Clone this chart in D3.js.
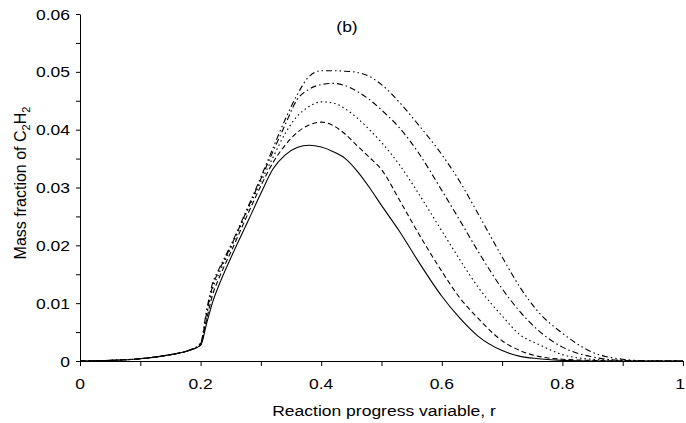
<!DOCTYPE html>
<html>
<head>
<meta charset="utf-8">
<script src="https://cdn.jsdelivr.net/npm/d3@7/dist/d3.min.js"></script>
<style>
  html, body { margin: 0; padding: 0; background: #fff; }
  svg { display: block; font-family: "Liberation Sans", Arial, sans-serif; }
</style>
</head>
<body>
<svg id="chart" width="686" height="423"></svg>
<script>
// ---- data ----
const rGrid = [0, 0.05, 0.1, 0.15, 0.18, 0.2, 0.21, 0.22, 0.23, 0.25, 0.28, 0.3, 0.32, 0.34, 0.36, 0.38, 0.4, 0.42, 0.44, 0.46, 0.48, 0.5, 0.53, 0.56, 0.6, 0.63, 0.66, 0.7, 0.73, 0.76, 0.8, 0.85, 0.9, 0.95, 1];

const solidSeries   = [0, 0.0001, 0.0004, 0.0011, 0.0018, 0.0027, 0.0065, 0.0102, 0.0130, 0.0178, 0.0245, 0.0290, 0.0332, 0.0356, 0.0369, 0.0373, 0.0370, 0.0362, 0.0350, 0.0328, 0.0300, 0.0269, 0.0224, 0.0174, 0.0112, 0.0074, 0.0043, 0.0018, 0.0008, 0.0004, 0.0001, 0, 0, 0, 0];
const dashedSeries  = [0, 0.0001, 0.0004, 0.0011, 0.0018, 0.0028, 0.0072, 0.0115, 0.0142, 0.0188, 0.0258, 0.0303, 0.0343, 0.0373, 0.0395, 0.0408, 0.0413, 0.0407, 0.0392, 0.0372, 0.0352, 0.0331, 0.0278, 0.0223, 0.0155, 0.0109, 0.0074, 0.0035, 0.0018, 0.0008, 0.0003, 0.0001, 0, 0, 0];
const dottedSeries  = [0, 0.0001, 0.0004, 0.0011, 0.0018, 0.0029, 0.0078, 0.0125, 0.0150, 0.0195, 0.0265, 0.0310, 0.0352, 0.0393, 0.0423, 0.0440, 0.0448, 0.0446, 0.0436, 0.0420, 0.0400, 0.0378, 0.0339, 0.0292, 0.0225, 0.0175, 0.0128, 0.0078, 0.0045, 0.0029, 0.0011, 0.0003, 0.0001, 0, 0];
const dashDotSeries = [0, 0.0001, 0.0004, 0.0011, 0.0018, 0.0030, 0.0083, 0.0130, 0.0155, 0.0198, 0.0268, 0.0315, 0.0362, 0.0408, 0.0452, 0.0470, 0.0478, 0.0480, 0.0476, 0.0466, 0.0452, 0.0434, 0.0403, 0.0362, 0.0295, 0.0243, 0.0190, 0.0125, 0.0085, 0.0053, 0.0024, 0.0007, 0.0001, 0, 0];
const dashDotDotSeries = [0, 0.0001, 0.0004, 0.0011, 0.0018, 0.0031, 0.0088, 0.0135, 0.0158, 0.0200, 0.0270, 0.0318, 0.0368, 0.0417, 0.0460, 0.0492, 0.0502, 0.0502, 0.0501, 0.0499, 0.0492, 0.0478, 0.0447, 0.0410, 0.0357, 0.0310, 0.0255, 0.0180, 0.0127, 0.0085, 0.0048, 0.0015, 0.0003, 0, 0];

const seriesNames = ["solid", "dashed", "dotted", "dashdot", "dashdotdot"];
const seriesValues = [solidSeries, dashedSeries, dottedSeries, dashDotSeries, dashDotDotSeries];

const xTickValues = [0, 0.1, 0.2, 0.3, 0.4, 0.5, 0.6, 0.7, 0.8, 0.9, 1];
const xLabelValues = [0, 0.2, 0.4, 0.6, 0.8, 1];
const xLabelText = ["0", "0.2", "0.4", "0.6", "0.8", "1"];
const yTickValues = [0, 0.005, 0.01, 0.015, 0.02, 0.025, 0.03, 0.035, 0.04, 0.045, 0.05, 0.055, 0.06];
const yLabelValues = [0, 0.01, 0.02, 0.03, 0.04, 0.05, 0.06];
const yLabelText = ["0", "0.01", "0.02", "0.03", "0.04", "0.05", "0.06"];

const xTitle = "Reaction progress variable, r";
const panelLabel = "(b)";

// ---- styles ----
const dashStyles = {
  solid: null,
  dashed: "5,3",
  dotted: "1.5,3",
  dashdot: "6,3,1.5,3",
  dashdotdot: "6,3,1.5,3,1.5,3"
};

const svg = d3.select("#chart");
const x = d3.scaleLinear().domain([0, 1]).range([80, 683]);
const y = d3.scaleLinear().domain([0, 0.06]).range([361, 14]);
const stretch = 1.13;
const fs = 15.5;

// axes
const gx = svg.append("g").attr("transform", `translate(0,${y(0)})`)
  .call(d3.axisBottom(x).tickValues(xTickValues).tickSize(5).tickSizeOuter(0).tickFormat(""));
const gy = svg.append("g").attr("transform", `translate(${x(0)},0)`)
  .call(d3.axisLeft(y).tickValues(yTickValues).tickSize(4).tickSizeOuter(0).tickFormat(""));
[gx, gy].forEach(g => {
  g.select(".domain").attr("stroke", "#000").attr("stroke-width", 1);
  g.selectAll(".tick line").attr("stroke", "#000").attr("stroke-width", 1);
});

// tick labels
svg.append("g").selectAll("text").data(xLabelValues).join("text")
  .attr("transform", d => `translate(${Math.min(x(d), 680)},389) scale(${stretch},1)`)
  .attr("text-anchor", "middle")
  .attr("font-size", fs)
  .attr("fill", "#000")
  .text((d, i) => xLabelText[i]);

svg.append("g").selectAll("text").data(yLabelValues).join("text")
  .attr("transform", d => `translate(70,${y(d) + 5.5}) scale(${stretch},1)`)
  .attr("text-anchor", "end")
  .attr("font-size", fs)
  .attr("fill", "#000")
  .text((d, i) => yLabelText[i]);

// axis titles
svg.append("text")
  .attr("transform", `translate(384,416) scale(${stretch},1)`)
  .attr("text-anchor", "middle")
  .attr("font-size", fs)
  .attr("fill", "#000")
  .text(xTitle);

const yt = svg.append("text")
  .attr("transform", "translate(26,183) rotate(-90)")
  .attr("text-anchor", "middle")
  .attr("font-size", 16)
  .attr("fill", "#000");
yt.append("tspan").text("Mass fraction of C");
yt.append("tspan").attr("font-size", 11).attr("dy", 4).text("2");
yt.append("tspan").attr("dy", -4).text("H");
yt.append("tspan").attr("font-size", 11).attr("dy", 4).text("2");

svg.append("text")
  .attr("transform", `translate(347,32) scale(${stretch},1)`)
  .attr("text-anchor", "middle")
  .attr("font-size", fs)
  .attr("fill", "#000")
  .text(panelLabel);

// curves
const line = d3.line()
  .x(d => x(d[0]))
  .y(d => y(d[1]))
  .curve(d3.curveMonotoneX);

seriesNames.forEach((name, k) => {
  const pts = rGrid.map((r, i) => [r, seriesValues[k][i]]);
  svg.append("path")
    .datum(pts)
    .attr("fill", "none")
    .attr("stroke", "#000")
    .attr("stroke-width", 1.1)
    .attr("stroke-dasharray", dashStyles[name])
    .attr("d", line);
});
</script>
</body>
</html>
